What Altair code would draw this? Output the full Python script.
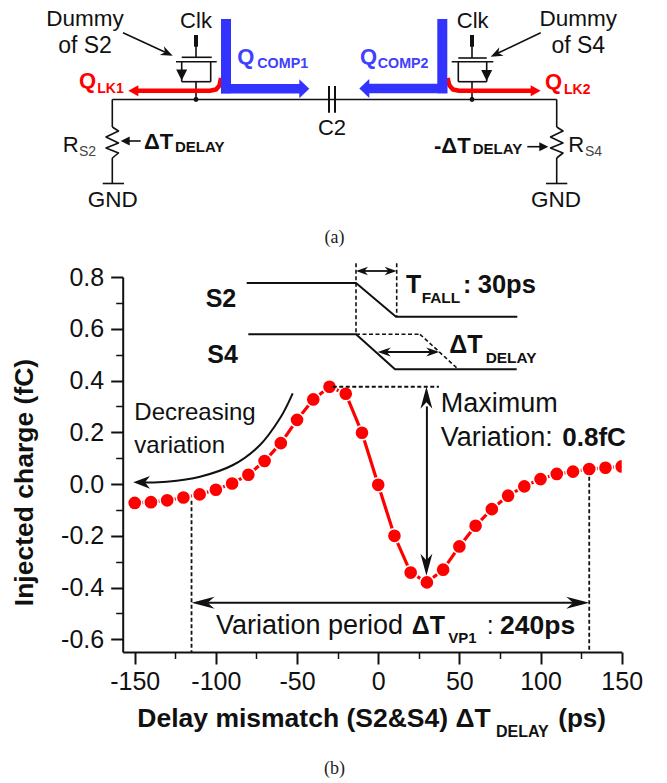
import altair as alt
import pandas as pd

# ---- measured series ----
delay_ps = [-150,-140,-130,-120,-110,-100,-90,-80,-70,-60,-50,-40,-30,-20,-10,0,
            10,20,30,40,50,60,70,80,90,100,110,120,130,140,150]
injected_fc = [-0.073,-0.070,-0.063,-0.052,-0.040,-0.022,0.002,0.036,0.089,0.158,0.248,0.327,0.376,0.349,0.198,-0.003,
               -0.200,-0.342,-0.380,-0.331,-0.241,-0.161,-0.097,-0.045,-0.009,0.019,0.039,0.048,0.058,0.063,0.068]
x_major = [-150,-100,-50,0,50,100,150]
x_minor = [-125,-75,-25,25,75,125]
y_major = [0.8,0.6,0.4,0.2,0.0,-0.2,-0.4,-0.6]
y_minor = [0.7,0.5,0.3,0.1,-0.1,-0.3,-0.5]

BLACK = "#111111"; RED = "#ff0000"; BLUE = "#3333ff"; TBLUE = "#4040ff"; GREY = "#444444"
SANS = "Liberation Sans"; SERIF = "Liberation Serif"

# schematic / inset scale in page units
PX = alt.Scale(domain=[8,659], range=[0,651], nice=False, zero=False)
PY = alt.Scale(domain=[14,775], range=[0,761], nice=False, zero=False)
# data scales
DX = alt.Scale(domain=[-157.4,150], range=[114.7,613.7], nice=False, zero=False)
DY = alt.Scale(domain=[-0.649,0.8], range=[638,263], nice=False, zero=False)

def px(): return alt.X("x:Q", scale=PX, axis=None)
def py(): return alt.Y("y:Q", scale=PY, axis=None)
def dx(): return alt.X("x:Q", scale=DX, axis=None)
def dy(): return alt.Y("y:Q", scale=DY, axis=None)

layers = []

def segs(rows, color=BLACK, w=1.5, dash=None, data=False):
    df = pd.DataFrame(rows, columns=["x","y","x2","y2"])
    kw = dict(color=color, strokeWidth=w, strokeCap="butt")
    if dash: kw["strokeDash"] = dash
    layers.append(alt.Chart(df).mark_rule(**kw).encode(
        x=dx() if data else px(), y=dy() if data else py(), x2="x2:Q", y2="y2:Q"))

def poly(points, color=BLACK, w=1.5, interp="linear"):
    df = pd.DataFrame(points, columns=["x","y"]); df["o"] = range(len(df))
    layers.append(alt.Chart(df).mark_line(color=color, strokeWidth=w, strokeJoin="round", interpolate=interp).encode(
        x=px(), y=py(), order="o:Q"))

def head(x, y, angle, L, r=0.4, notch=0.7, color=BLACK, data=False):
    path = f"M0,0L-1,{-r}L{-notch},0L-1,{r}Z"
    df = pd.DataFrame({"x":[x],"y":[y]})
    layers.append(alt.Chart(df).mark_point(shape=path, filled=True, size=4*L*L, angle=angle,
                                           color=color, opacity=1, strokeWidth=0).encode(
        x=dx() if data else px(), y=dy() if data else py()))

def t(x, y, s, size=22, bold=False, color=BLACK, align="left", font=SANS, angle=0):
    df = pd.DataFrame({"x":[x],"y":[y],"s":[s]})
    kw = dict(align=align, baseline="alphabetic", fontSize=size, font=font, color=color,
              fontWeight="bold" if bold else "normal")
    if angle: kw["angle"] = angle
    layers.append(alt.Chart(df).mark_text(**kw).encode(x=px(), y=py(), text="s:N"))

# ---- schematic (a) ----
segs([(112.3,99.5,335,99.5),(335,99.5,556.7,99.5),
      (112.3,99.5,112.3,127),(112.3,158,112.3,183.5),
      (556.7,99.5,556.7,127),(556.7,158,556.7,183.5),
      (196,46,196,57.3),(196,81.7,196,99.5),
      (472,46,472,58),(472,81.7,472,99.5),
      (181.7,61.7,181.7,81.7),(210.7,61.7,210.7,81.7),(181.7,81.7,210.7,81.7),
      (458.3,61.7,458.3,81.7),(486.7,61.7,486.7,81.7),(458.3,81.7,486.7,81.7),
      (181.7,57.3,211.7,57.3),(458.3,58,486.7,58),
      (176,61.7,216.7,61.7),(451.7,61.7,493.3,61.7),
      (102.7,183.5,124,183.5),(546,183.5,567.3,183.5),
      (123,32.7,168,53.5),(540.7,32.7,495,54.5),
      (140.7,141,126,141),(527.3,146.7,543,146.7)], w=1.6)
segs([(329,86,329,112.7),(335,86,335,112.7)], w=2)
segs([(196,35,196,46.7),(472,35,472,46.7)], w=4)
poly([(112.3,127),(118.5,131),(106,137),(118.5,143),(106,148),(118.5,153),(112.3,158)], w=1.6)
poly([(556.7,127),(563,131),(550.5,137),(563,143),(550.5,148),(563,153),(556.7,158)], w=1.6)
head(172.7,55.7,25,12); head(490.7,56.7,154,12)
head(120.7,141,180,9,r=0.5,notch=1); head(548.3,146.7,0,9,r=0.5,notch=1)
head(181.7,80.5,90,11,r=0.5,notch=1); head(486.7,81,90,11,r=0.5,notch=1)
for (x,y) in [(196,99.5),(472,99.5)]:
    layers.append(alt.Chart(pd.DataFrame({"x":[x],"y":[y]})).mark_circle(size=24,color=BLACK,opacity=1).encode(x=px(),y=py()))

poly([(136,90.7),(210,90.7),(216,89.5),(219.5,85.5),(221,78)], color=RED, w=4.5)
poly([(447.5,78),(449.5,85.5),(453,89.5),(459,90.7),(534,90.7)], color=RED, w=4.5)
head(128.3,90.7,180,10,r=0.55,notch=1,color=RED); head(540.7,90.7,0,10,r=0.55,notch=1,color=RED)

segs([(226,19,226,93.3),(442.3,19,442.3,93.3)], color=BLUE, w=10)
segs([(221,88.7,301,88.7),(447.3,88.5,368,88.5)], color=BLUE, w=9.5)
head(309.3,88.7,0,10,r=0.95,notch=1,color=BLUE); head(359.3,88.5,180,10,r=0.95,notch=1,color=BLUE)

t(85,26,"Dummy",size=22.5,align="center"); t(85,52.5,"of S2",size=23,align="center")
t(578.3,26,"Dummy",size=22.5,align="center"); t(578.3,52.5,"of S4",size=23,align="center")
t(196,27.7,"Clk",align="center"); t(472.7,27.7,"Clk",align="center")
t(332,135,"C2",align="center")
t(112.7,206.7,"GND",size=22.5,align="center"); t(556,206.7,"GND",size=22.5,align="center")
t(62.7,151.7,"R"); t(79,155.7,"S2",size=14,color=GREY)
t(568.3,151.7,"R"); t(585,155.7,"S4",size=14,color=GREY)
t(144,149,"ΔT",bold=True); t(175,152.3,"DELAY",size=15,bold=True)
t(434,153.3,"-ΔT",bold=True); t(472.7,154,"DELAY",size=15,bold=True)
t(79,88.3,"Q",bold=True,color=RED); t(97.3,93.3,"LK1",size=14,bold=True,color=RED)
t(545,89,"Q",bold=True,color=RED); t(564,94.3,"LK2",size=14,bold=True,color=RED)
t(237.3,64.3,"Q",bold=True,color=TBLUE); t(257.3,67.7,"COMP1",size=14.3,bold=True,color=TBLUE)
t(360,64.3,"Q",bold=True,color=TBLUE); t(377.7,67.7,"COMP2",size=14.3,bold=True,color=TBLUE)
t(334.5,242.5,"(a)",size=18,align="center",font=SERIF,color="#222222")
t(334.5,773.5,"(b)",size=18,align="center",font=SERIF,color="#222222")

# ---- main plot: axes ----
label_fix = "replace(datum.label, '\u2212', '-')"
AX = dict(domainColor=BLACK, domainWidth=2, tickColor=BLACK, tickWidth=2, grid=False, title=None,
          labelFont=SANS, labelFontSize=25, labelColor=BLACK, labelOverlap=False, labelFlush=False, labelBound=False)
data_df = pd.DataFrame({"x":delay_ps,"y":injected_fc})

major = alt.Chart(data_df).mark_point(opacity=0).encode(
    x=alt.X("x:Q", scale=DX, axis=alt.Axis(orient="bottom", values=x_major, format="d", tickSize=12, offset=-123, labelPadding=5, labelExpr=label_fix, **AX)),
    y=alt.Y("y:Q", scale=DY, axis=alt.Axis(orient="left", values=y_major, format=".1f", tickSize=12, offset=-114.7, labelPadding=7, labelExpr=label_fix, **AX)))
minor = alt.Chart(data_df).mark_point(opacity=0).encode(
    x=alt.X("x:Q", scale=DX, axis=alt.Axis(orient="bottom", values=x_minor, labels=False, domain=False, tickSize=6.5, offset=-123, tickColor=BLACK, tickWidth=1.5, grid=False, title=None)),
    y=alt.Y("y:Q", scale=DY, axis=alt.Axis(orient="left", values=y_minor, labels=False, domain=False, tickSize=7, offset=-114.7, tickColor=BLACK, tickWidth=1.5, grid=False, title=None)))
layers = [major, minor] + layers

# ---- data ----
layers.append(alt.Chart(data_df).mark_line(color=RED, strokeWidth=3.2, clip=True).encode(x=dx(), y=dy()))
layers.append(alt.Chart(data_df).mark_circle(color="white", size=250, opacity=1, clip=True).encode(x=dx(), y=dy()))
layers.append(alt.Chart(data_df).mark_circle(color=RED, size=160, opacity=1, clip=True).encode(x=dx(), y=dy()))

# ---- annotations on the data scale ----
segs([(-115,-0.065,-115,-0.649),(130,0.028,130,-0.649)], w=1.8, dash=[4,2.5], data=True)
segs([(-28,0.376,37.4,0.376)], w=1.8, dash=[4,2.5], data=True)
segs([(-105,-0.459,120,-0.459)], w=2, data=True)
segs([(30,0.30,30,-0.30)], w=2, data=True)
head(-115,-0.459,180,23,r=0.26,notch=0.7,data=True); head(130,-0.459,0,23,r=0.26,notch=0.7,data=True)
head(29.7,0.376,270,22,r=0.27,notch=0.7,data=True); head(29.7,-0.354,90,22,r=0.27,notch=0.7,data=True)

# ---- inset waveforms ----
poly([(246.7,283),(356,283),(396,316.7),(517.3,316.7)], w=2)
poly([(248.3,334.3),(356,334.3),(395,369.3),(516.7,369.3)], w=2)
segs([(356,263.3,356,334.3),(396.7,263.3,396.7,316.7),(356,334.3,420,334.3),(420,334.3,458.3,369.3)], w=1.6, dash=[4,2.5])
segs([(362,271,390,271),(384,352,433,352)], w=1.8)
head(356,271,180,12,r=0.35,notch=0.7); head(396.7,271,0,12,r=0.35,notch=0.7)
head(377.7,352,180,13,r=0.35,notch=0.7); head(439.3,352,0,13,r=0.35,notch=0.7)

# curved arrow
poly([(292.7,393.3),(280,418.3),(260,445),(233,465),(200,476.7),(166.7,481.7),(140,482.3)], w=2, interp="cardinal")
head(133.3,482.3,180,16.7,r=0.38,notch=0.7)

# ---- plot text ----
t(205.7,306.7,"S2",size=25,bold=True); t(207.3,362.7,"S4",size=25,bold=True)
t(406,293.3,"T",size=25,bold=True); t(421.7,303.3,"FALL",size=15.4,bold=True)
t(463,293.3,":",size=25,bold=True); t(477.7,293.3,"30ps",size=25.5,bold=True)
t(449.3,353.3,"ΔT",size=25,bold=True); t(485.7,362.7,"DELAY",size=15.4,bold=True)
t(134.3,420,"Decreasing",size=24); t(134.3,453.3,"variation",size=24)
t(440.7,411.7,"Maximum",size=27); t(440.7,445.7,"Variation:",size=27); t(562.3,445.7,"0.8fC",size=26,bold=True)
t(216,634,"Variation period",size=27); t(411.7,634,"ΔT",size=25,bold=True)
t(448.3,643.3,"VP1",size=15,bold=True); t(486.7,634,":",size=25); t(500,634,"240ps",size=26.5,bold=True)
t(137.3,727,"Delay mismatch (S2&S4) ΔT",size=26.5,bold=True); t(496,736.7,"DELAY",size=16,bold=True); t(558.3,727,"(ps)",size=26,bold=True)
t(33,482.5,"Injected charge (fC)",size=26.5,bold=True,align="center",angle=270)

chart = alt.layer(*layers).resolve_scale(x="independent", y="independent").properties(
    width=613.7, height=761,
    padding={"left":0,"top":6,"right":37.3,"bottom":6},
    autosize=alt.AutoSizeParams(type="none"),
).configure_view(stroke=None)

chart.save("out.html", embed_options={"renderer":"svg","actions":False})
